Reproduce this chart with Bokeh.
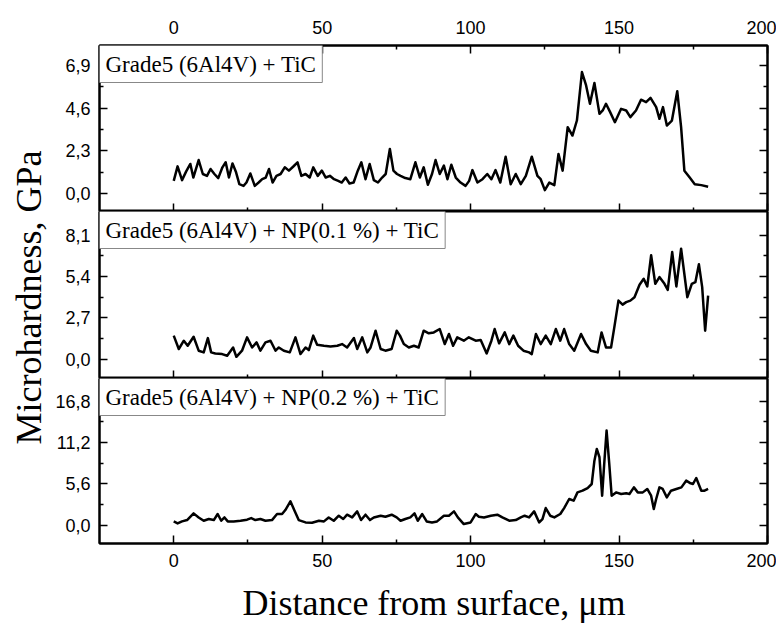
from math import pi
from bokeh.plotting import figure
from bokeh.models import (LinearAxis, FixedTicker, CustomJSTickFormatter, Label,
                          Range1d, ColumnDataSource)
from bokeh.layouts import row, column
from bokeh.embed import file_html
from bokeh.resources import INLINE

# ---------------- data ----------------
x_top = [0, 1.3, 2.8, 4.2, 5.6, 6.6, 8.4, 9.8, 11.2, 12.4, 13.7, 15.0, 16.4, 17.5, 18.6, 19.8,
         21.0, 22.1, 23.5, 24.5, 25.8, 27.3, 28.6, 29.8, 31.0, 32.1, 33.3, 34.6, 36.0, 37.4,
         38.8, 40.2, 41.7, 43.0, 44.4, 45.8, 47.0, 48.5, 49.9, 51.2, 52.6, 54.0, 55.4, 56.6,
         57.9, 59.2, 60.6, 62.0, 63.2, 64.6, 66.0, 67.4, 68.8, 70.2, 71.4, 72.8, 74.0, 75.2,
         76.4, 78.0, 79.7, 81.4, 82.9, 84.2, 85.6, 87.0, 88.2, 89.6, 91.0, 92.2, 93.5, 95.0,
         96.6, 98.3, 99.5, 100.6, 102.3, 104.0, 105.6, 107.0, 108.4, 110.0, 111.8, 113.5,
         115.2, 116.9, 118.6, 120.6, 122.5, 123.6, 125.0, 126.5, 128.2, 129.6, 131.0, 132.7,
         134.3, 135.8, 137.5, 138.9, 140.2, 141.7, 143.4, 144.5, 145.6, 147.0, 148.6, 150.7,
         152.4, 153.8, 155.7, 157.4, 159.1, 160.6, 162.5, 163.6, 164.8, 166.1, 167.8, 169.6,
         170.9, 172.0, 173.8, 175.5, 177.7, 180.0]
y_top = [0.68, 1.46, 0.72, 1.19, 1.59, 0.86, 1.80, 1.05, 0.95, 1.32, 1.05, 0.83, 1.41, 1.68,
         0.86, 1.62, 1.14, 0.50, 0.41, 0.59, 1.08, 0.41, 0.59, 0.77, 0.86, 1.32, 0.59, 0.95,
         1.05, 1.41, 1.23, 1.44, 1.68, 0.95, 1.05, 0.86, 1.41, 0.95, 1.23, 0.86, 0.95, 0.77,
         0.68, 0.59, 0.86, 0.54, 0.59, 1.23, 1.68, 0.77, 1.59, 0.72, 0.59, 0.86, 1.05, 2.40,
         1.23, 1.05, 0.95, 0.83, 0.77, 1.68, 0.86, 1.41, 0.47, 1.05, 1.80, 1.05, 1.50, 0.77,
         1.55, 0.86, 0.59, 0.41, 0.68, 1.26, 0.59, 0.77, 1.05, 0.77, 1.26, 0.59, 1.98, 0.50,
         1.05, 0.50, 0.95, 1.98, 0.95, 0.77, 0.18, 0.59, 0.45, 2.13, 1.23, 3.57, 3.12, 3.93,
         6.54, 5.82, 4.83, 5.95, 4.29, 4.47, 4.83, 4.38, 3.84, 4.56, 4.47, 4.11, 4.47, 5.05,
         4.92, 5.15, 4.65, 4.02, 4.65, 3.66, 3.93, 5.51, 3.57, 1.23, 0.86, 0.50, 0.45, 0.36]

x_mid = [0, 1.7, 3.4, 4.7, 6.7, 8.4, 10.1, 11.5, 12.6, 14.0, 16.3, 18.0, 20.0, 21.1, 23.0, 24.7,
         26.4, 27.9, 29.2, 30.9, 32.6, 34.3, 35.4, 37.1, 39.1, 41.0, 42.7, 44.4, 45.5, 47.0,
         48.3, 50.6, 52.8, 55.1, 56.7, 58.4, 60.7, 61.8, 63.5, 65.2, 66.3, 68.0, 69.7, 71.3,
         73.4, 75.1, 76.2, 77.5, 79.2, 80.9, 82.5, 84.2, 85.9, 87.6, 89.6, 91.3, 92.7, 94.1,
         95.5, 97.7, 99.4, 101.7, 103.4, 105.4, 107.0, 108.1, 109.6, 111.5, 113.0, 114.4,
         116.0, 117.8, 119.7, 120.6, 122.0, 123.6, 125.3, 127.0, 128.7, 130.2, 131.5, 133.2,
         134.9, 137.2, 138.9, 140.5, 142.8, 144.1, 145.6, 147.3, 148.4, 149.8, 151.2, 152.4,
         153.8, 155.2, 156.9, 158.3, 159.5, 160.8, 162.2, 163.6, 165.3, 166.4, 167.9, 169.3,
         170.9, 173.0, 174.5, 175.7, 176.9, 178.0, 179.0, 180.0]
y_mid = [1.55, 0.68, 1.22, 0.89, 1.48, 0.57, 0.46, 1.39, 0.46, 0.39, 0.35, 0.24, 0.78, 0.17,
         0.57, 1.44, 0.78, 1.11, 0.57, 1.11, 1.22, 0.57, 0.78, 0.57, 0.46, 1.44, 0.35, 0.78,
         0.61, 1.55, 0.96, 0.89, 0.85, 0.89, 1.00, 0.78, 1.39, 0.68, 1.44, 0.46, 0.78, 1.87,
         0.68, 0.57, 0.68, 1.87, 1.55, 1.00, 0.78, 0.89, 0.78, 1.87, 1.70, 1.76, 1.98, 1.00,
         1.66, 0.89, 1.44, 1.22, 1.44, 1.22, 1.26, 0.39, 1.22, 1.98, 1.05, 1.76, 1.00, 1.55,
         0.89, 0.57, 0.46, 0.35, 1.66, 1.00, 1.55, 1.00, 1.98, 1.22, 1.98, 1.00, 0.57, 1.66,
         1.00, 0.57, 0.46, 1.76, 0.78, 0.78, 2.09, 3.83, 3.57, 3.73, 3.83, 4.05, 4.86, 5.25,
         4.75, 6.78, 4.92, 5.36, 4.92, 4.53, 6.99, 4.75, 7.21, 4.05, 4.92, 5.03, 6.19, 4.71,
         1.87, 4.16]

x_bot = [0, 1.3, 2.8, 4.5, 6.7, 8.4, 10.1, 11.8, 13.5, 14.8, 16.0, 17.1, 18.2, 20.2, 22.5, 24.7,
         26.1, 27.5, 29.2, 30.9, 33.1, 34.8, 36.5, 37.6, 39.3, 40.7, 42.1, 44.4, 46.6, 48.9,
         50.6, 52.2, 53.9, 55.6, 57.1, 58.4, 60.1, 61.8, 63.1, 64.6, 66.1, 67.4, 69.7, 71.3,
         73.4, 75.1, 76.4, 78.0, 79.7, 81.1, 82.2, 83.7, 85.2, 87.0, 88.7, 91.0, 92.7, 94.4,
         95.7, 97.7, 100.0, 101.7, 102.8, 104.5, 106.8, 109.0, 110.7, 113.0, 115.2, 116.9,
         118.2, 119.7, 121.4, 123.1, 124.2, 125.3, 126.8, 128.2, 130.2, 131.5, 133.2, 134.7,
         136.0, 137.7, 139.4, 140.8, 141.7, 142.5, 143.4, 144.3, 145.0, 145.8, 146.7, 147.5,
         149.0, 150.7, 152.4, 153.5, 155.0, 156.3, 158.0, 159.5, 160.8, 161.7, 162.5, 163.6,
         164.7, 166.1, 167.5, 169.3, 171.0, 172.6, 174.1, 174.9, 176.0, 177.7, 178.8, 180.0]
y_bot = [0.50, 0.23, 0.50, 0.68, 1.59, 1.04, 0.59, 0.82, 0.68, 1.50, 0.59, 1.04, 0.50, 0.50,
         0.59, 0.73, 0.95, 0.68, 0.82, 0.59, 0.68, 1.50, 1.50, 2.04, 3.22, 1.95, 0.68, 0.36,
         0.32, 0.59, 0.50, 1.04, 0.59, 1.27, 0.82, 1.41, 1.04, 1.86, 0.68, 1.41, 0.68, 1.04,
         1.27, 1.13, 1.41, 1.04, 0.59, 0.82, 1.04, 1.59, 0.59, 1.50, 0.50, 0.36, 0.50, 1.27,
         1.27, 1.86, 1.04, 0.14, 0.36, 1.50, 1.13, 1.04, 1.27, 1.41, 1.04, 0.59, 0.68, 1.04,
         1.27, 1.04, 1.86, 0.36, 0.82, 2.31, 1.27, 1.04, 1.50, 2.31, 3.54, 3.31, 4.44, 4.67,
         5.03, 5.58, 8.75, 10.34, 9.21, 3.99, 8.30, 12.83, 8.30, 3.99, 4.44, 4.22, 4.31, 4.22,
         5.12, 4.44, 4.44, 4.90, 3.99, 2.18, 3.54, 5.12, 4.90, 3.76, 4.67, 4.90, 5.12, 6.03,
         5.67, 5.58, 6.39, 4.67, 4.67, 4.90]

x_major = [0, 50, 100, 150, 200]
x_minor = [25, 75, 125, 175]

labels = ["Grade5 (6Al4V) + TiC",
          "Grade5 (6Al4V) + NP(0.1 %) + TiC",
          "Grade5 (6Al4V) + NP(0.2 %) + TiC"]
y_major = [[0, 2.3, 4.6, 6.9], [0, 2.7, 5.4, 8.1], [0, 5.6, 11.2, 16.8]]
y_minor = [[1.15, 3.45, 5.75], [1.35, 4.05, 6.75], [2.8, 8.4, 14.0]]
y_lims = [(-0.97, 7.97), (-1.24, 9.63), (-2.5, 19.9)]

x_title = "Distance from surface, \u03bcm"
y_title = "Microhardness, GPa"

# ---------------- styling ----------------
SANS = "Liberation Sans"
SERIF = "Liberation Serif"
LB = 46           # left border of panels
RB = 9
FW = 669          # frame width
PW = LB + FW + RB # width of each panel figure
frame_h = [166, 167, 165]
top_border = 45
bot_border = 37
xt_h = 44         # height of x-title strip
total_h = top_border + sum(frame_h) + bot_border + xt_h
TW = 98 - LB      # width of y-title strip

comma_fmt = CustomJSTickFormatter(code="return tick.toFixed(1).replace('.', ',');")
int_fmt = CustomJSTickFormatter(code="return tick.toFixed(0);")
blank_fmt = CustomJSTickFormatter(code="return '';")


def style_axis(ax, show_labels, standoff=8):
    ax.axis_line_width = 2
    ax.axis_line_color = "black"
    ax.major_tick_in = 8
    ax.major_tick_out = 0
    ax.minor_tick_in = 4
    ax.minor_tick_out = 0
    ax.major_tick_line_width = 1.5
    ax.minor_tick_line_width = 1.5
    ax.major_tick_line_color = "black"
    ax.minor_tick_line_color = "black"
    if show_labels:
        ax.major_label_text_font = SANS
        ax.major_label_text_font_size = "18px"
        ax.major_label_text_color = "black"
        ax.major_label_standoff = standoff
    else:
        ax.formatter = blank_fmt
        ax.major_label_text_font_size = "0px"
        ax.major_label_standoff = 0


def blank_fig(w, h):
    f = figure(width=w, height=h, x_range=Range1d(0, 1), y_range=Range1d(0, 1),
               x_axis_location=None, y_axis_location=None,
               output_backend="svg", toolbar_location=None, min_border=0)
    f.grid.visible = False
    f.outline_line_color = None
    f.background_fill_color = "white"
    f.border_fill_color = "white"
    return f


panels = []
series = [(x_top, y_top), (x_mid, y_mid), (x_bot, y_bot)]
for i in range(3):
    tb = top_border if i == 0 else 0
    bb = bot_border if i == 2 else 0
    p = figure(width=PW, height=frame_h[i] + tb + bb,
               x_range=Range1d(-25, 200), y_range=Range1d(*y_lims[i]),
               x_axis_location=None, y_axis_location=None,
               output_backend="svg", toolbar_location=None,
               min_border_left=LB, min_border_right=RB,
               min_border_top=tb, min_border_bottom=bb)
    p.grid.visible = False
    p.outline_line_color = "black"
    p.outline_line_width = 2
    p.background_fill_color = "white"
    p.border_fill_color = "white"

    xt = FixedTicker(ticks=x_major, minor_ticks=x_minor)
    yt = FixedTicker(ticks=y_major[i], minor_ticks=y_minor[i])

    left = LinearAxis(ticker=yt, formatter=comma_fmt)
    style_axis(left, True, 9)
    p.add_layout(left, "left")

    right = LinearAxis(ticker=yt)
    style_axis(right, False)
    p.add_layout(right, "right")

    below = LinearAxis(ticker=xt, formatter=int_fmt)
    style_axis(below, i == 2, 10)
    p.add_layout(below, "below")

    if i == 0:
        above = LinearAxis(ticker=xt, formatter=int_fmt)
        style_axis(above, True, 12)
        p.add_layout(above, "above")

    src = ColumnDataSource(data=dict(x=series[i][0], y=series[i][1]))
    p.line("x", "y", source=src, line_color="black", line_width=2.5, line_join="round")

    lab = Label(x=0, y=frame_h[i], x_units="screen", y_units="screen",
                text=labels[i], text_font=SERIF, text_font_size="23px",
                text_color="black", text_align="left", text_baseline="top",
                padding=6, border_line_color="#888888", border_line_width=1,
                background_fill_color="white")
    p.add_layout(lab)
    panels.append(p)

# x-axis title strip
xfig = blank_fig(PW, xt_h)
xfig.add_layout(Label(x=LB + FW / 2 - 46, y=xt_h / 2, x_units="screen", y_units="screen",
                      text=x_title, text_font=SERIF, text_font_size="36px",
                      text_color="black", text_align="center",
                      text_baseline="middle"))

# y-axis title strip
yfig = blank_fig(TW, total_h)
yfig.add_layout(Label(x=28, y=total_h - 297, x_units="screen", y_units="screen",
                      text=y_title, text_font=SERIF, text_font_size="36px",
                      text_color="black", angle=pi / 2, text_align="center",
                      text_baseline="middle"))

layout = row(yfig, column(*panels, xfig, spacing=0), spacing=0)

with open("out.html", "w") as f:
    f.write(file_html(layout, INLINE))
